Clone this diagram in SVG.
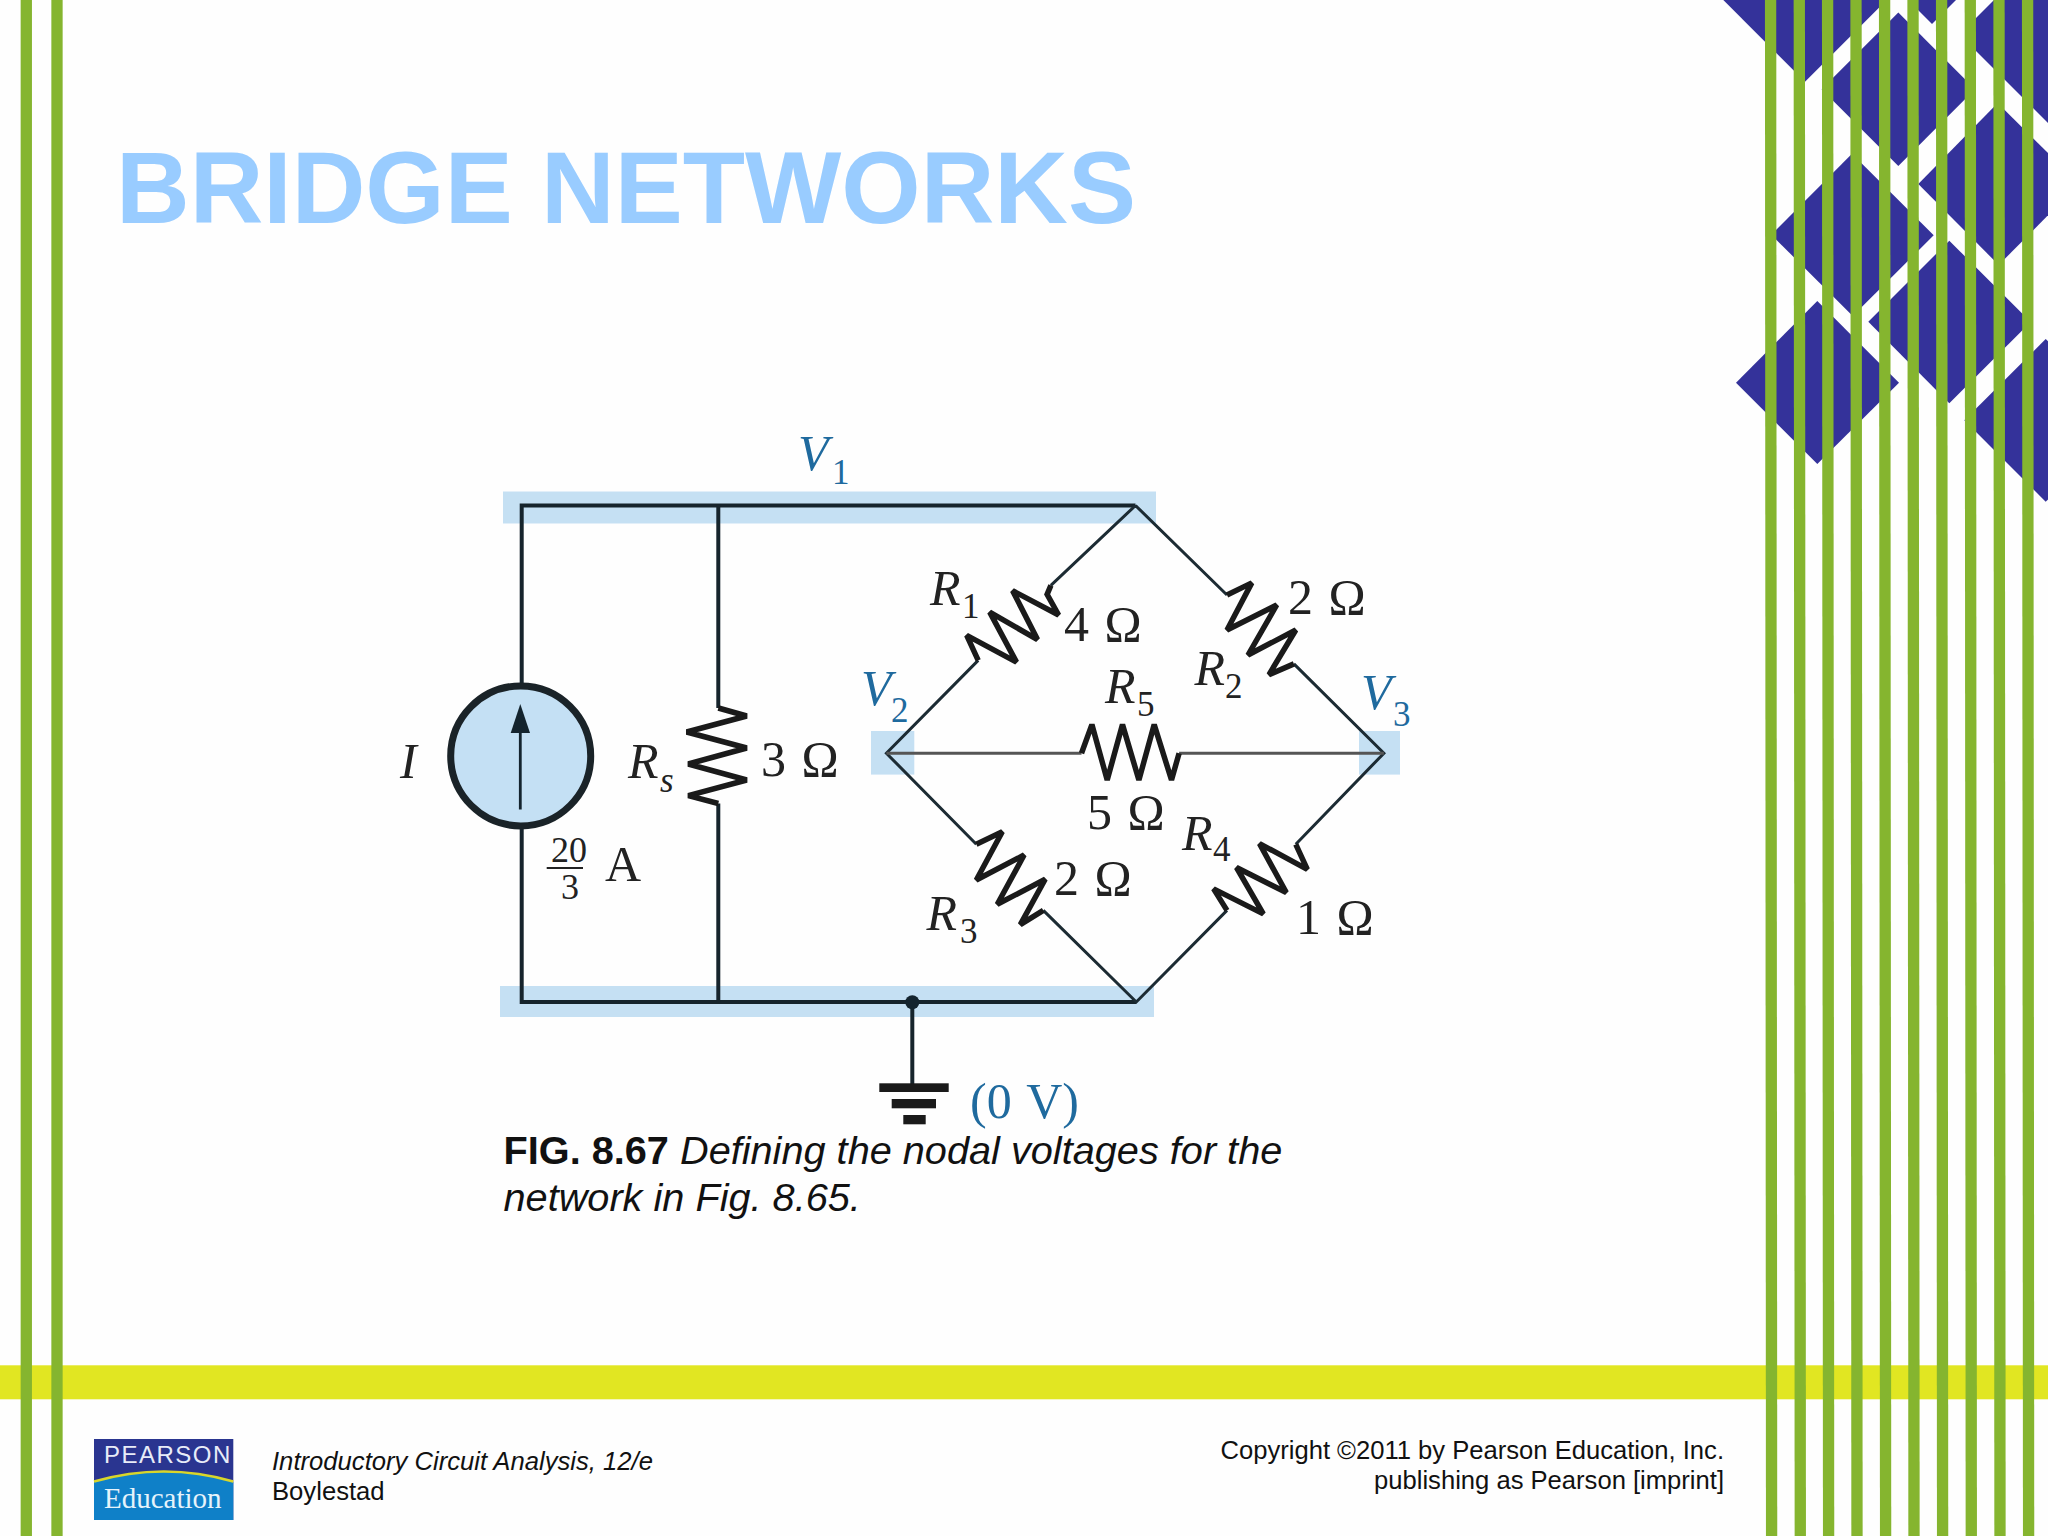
<svg xmlns="http://www.w3.org/2000/svg" width="2048" height="1536" viewBox="0 0 2048 1536">
<style>
.bar{stroke:#85b52f;stroke-width:11.3;fill:none}
.dia{fill:#34329a}
.band{fill:#c5e0f3}
.wire{stroke:#1c2b33;stroke-width:3;fill:none;stroke-linejoin:miter}
.thick{stroke:#16242c;stroke-width:4;fill:none}
.zig{stroke:#1a1a1a;stroke-width:5.5;fill:none;stroke-linejoin:miter;stroke-miterlimit:3}
text{font-family:"Liberation Serif","Times New Roman",serif;fill:#222}
.lab{font-size:50px;word-spacing:3px}
.it{font-size:50px;font-style:italic}
.sub{font-size:35px}
.blue{fill:#1f6a9e}
.sans{font-family:"Liberation Sans",Arial,sans-serif;fill:#111}
</style>
<rect width="2048" height="1536" fill="#fefefe"/>
<g id="decor-diamonds">
<polygon class="dia" points="1723.3,0 1886.7,0 1805,81.7"/>
<polygon class="dia" points="1898.3,12.6 1975,89.3 1898.3,166 1821.6,89.3"/>
<polygon class="dia" points="1908,0 1956,0 1932,24"/>
<polygon class="dia" points="1966,28 1994,0 2048,0 2048,123 1966,41"/>
<polygon class="dia" points="1997.7,103 2079,184 1998.7,265 1918.3,184"/>
<polygon class="dia" points="1852,153.7 1933.7,235.3 1852.7,316 1771.3,234.7"/>
<polygon class="dia" points="1949.3,240.7 2030.7,322 1949.3,403.3 1868.3,321.7"/>
<polygon class="dia" points="1817.3,301 1899,382.7 1817.3,464 1736,382.7"/>
<polygon class="dia" points="2045.7,339 2127,420.3 2045.7,501.7 1964.3,420.3"/>
</g>
<rect id="decor-band" x="0" y="1365.3" width="2048" height="34" fill="#e1e622"/>
<g id="decor-stripes">
<line class="bar" x1="26.3" y1="0" x2="26.3" y2="1536"/>
<line class="bar" x1="57" y1="0" x2="57" y2="1536"/>
<line class="bar" x1="1770.6" y1="0" x2="1771.6" y2="1536"/>
<line class="bar" x1="1799.3" y1="0" x2="1800.3" y2="1536"/>
<line class="bar" x1="1827.6" y1="0" x2="1828.6" y2="1536"/>
<line class="bar" x1="1856" y1="0" x2="1857" y2="1536"/>
<line class="bar" x1="1884.6" y1="0" x2="1885.6" y2="1536"/>
<line class="bar" x1="1913" y1="0" x2="1914" y2="1536"/>
<line class="bar" x1="1941.6" y1="0" x2="1942.6" y2="1536"/>
<line class="bar" x1="1970.3" y1="0" x2="1971.3" y2="1536"/>
<line class="bar" x1="1999" y1="0" x2="2000" y2="1536"/>
<line class="bar" x1="2027.6" y1="0" x2="2028.6" y2="1536"/>
</g>
<text id="title" x="116" y="223" font-size="102" font-weight="700" style="font-family:'Liberation Sans',Arial,sans-serif;fill:#99ccff">BRIDGE NETWORKS</text>
<g id="node-bands">
<rect class="band" x="503" y="491.5" width="653" height="32"/>
<rect class="band" x="500" y="986" width="654" height="31"/>
<rect class="band" x="871" y="731" width="43.3" height="43.6"/>
<rect class="band" x="1359" y="731" width="41" height="43.6"/>
</g>
<g id="connectors">
<path class="thick" d="M521.7 687V505.5H1135.5"/>
<path class="thick" d="M521.7 826V1002H1136"/>
<path class="thick" d="M718.3 505.5V708M718.3 803.5V1002"/>
<path class="wire" d="M1135.5 505.5L1050.9 585.4M978.2 660.4L886.4 753.2L976.3 844.3M1043.3 910.4L1136.3 1002L1227 910.4M1295.8 844.3L1383.9 753.2L1293.9 663.9M1227 595L1135.5 505.5"/>
<path d="M886.4 753.2H1081.5M1179.1 753.2H1383.9" stroke="#555" stroke-width="3" fill="none"/>
<line class="thick" x1="912.3" y1="1002" x2="912.3" y2="1085"/>
</g>
<g id="node-I">
<circle cx="520.7" cy="755.9" r="70" fill="#c4e0f4" stroke="#1a2328" stroke-width="7"/>
<line x1="520.3" y1="809.5" x2="520.3" y2="725" stroke="#14242e" stroke-width="2.8"/>
<polygon points="520.3,704 530,733 510.7,733" fill="#14242e"/>
<text class="it" x="400" y="777.7">I</text>
<text x="551" y="862" font-size="36">20</text>
<line x1="546.7" y1="868" x2="583" y2="868" stroke="#222" stroke-width="2"/>
<text x="561" y="899" font-size="36">3</text>
<text class="lab" x="605" y="881">A</text>
</g>
<g id="node-Rs">
<polyline class="zig" points="718.3,708 746.7,716 686.7,732 746.7,748 688.3,764 746.7,780 688.3,795.6 718.3,803.5"/>
<text class="it" x="628" y="777.7">R</text><text class="sub" font-style="italic" x="660" y="792">s</text>
<text class="lab" x="761" y="775.7">3 Ω</text>
</g>
<g id="node-R1">
<polyline class="zig" points="1050.9,585.4 1047.1,594.3 1058.6,615 1012.6,590.7 1037.5,639.6 989.7,612.1 1016.5,662.1 966.7,635.4 978.2,660.4"/>
<text class="it" x="930" y="605">R</text><text class="sub" x="962" y="617.5">1</text>
<text class="lab" x="1064" y="640.7">4 Ω</text>
</g>
<g id="node-R2">
<polyline class="zig" points="1227,595 1251.8,582.9 1227,630 1276.7,605 1248,655 1295.8,630 1269,674.6 1293.9,663.9"/>
<text class="it" x="1194.4" y="685.4">R</text><text class="sub" x="1225" y="697.9">2</text>
<text class="lab" x="1288" y="614">2 Ω</text>
</g>
<g id="node-R3">
<polyline class="zig" points="976.3,844.3 1002.3,831.8 976.3,880 1024.1,855 997.3,904.3 1045.2,879.3 1020.3,924.6 1043.3,910.4"/>
<text class="it" x="926.5" y="930">R</text><text class="sub" x="960" y="942.5">3</text>
<text class="lab" x="1054" y="895">2 Ω</text>
</g>
<g id="node-R4">
<polyline class="zig" points="1295.8,844.3 1307.3,869.3 1259.5,843.6 1286.3,892.5 1236.5,867.5 1263.3,913.9 1213.6,888.9 1227,910.4"/>
<text class="it" x="1182" y="849.6">R</text><text class="sub" x="1213" y="861.4">4</text>
<text class="lab" x="1296" y="933.6">1 Ω</text>
</g>
<g id="node-R5">
<polyline class="zig" points="1081.5,753.2 1091.9,724.6 1107.2,780 1122.5,724.6 1138.9,780 1154.2,724.6 1171.5,780 1179.1,753.2"/>
<text class="it" x="1105" y="703">R</text><text class="sub" x="1137" y="715.7">5</text>
<text class="lab" x="1087" y="829.3">5 Ω</text>
</g>
<g id="node-V1"><text class="it blue" x="798" y="469.7">V</text><text class="sub blue" x="832" y="483.6">1</text></g>
<g id="node-V2"><text class="it blue" x="861" y="705">V</text><text class="sub blue" x="891" y="722">2</text></g>
<g id="node-V3"><text class="it blue" x="1361" y="708.6">V</text><text class="sub blue" x="1393" y="725.7">3</text></g>
<g id="node-ground">
<circle cx="912.3" cy="1002.3" r="7" fill="#14242e"/>
<rect x="879.3" y="1083.3" width="69.4" height="8.7" fill="#1a1a1a"/>
<rect x="891.7" y="1099" width="44.3" height="9.3" fill="#1a1a1a"/>
<rect x="903.3" y="1115" width="22.4" height="9.3" fill="#1a1a1a"/>
<text class="lab blue" x="970" y="1118.3">(0 V)</text>
</g>
<g id="caption">
<text class="sans" x="503.5" y="1164" font-size="39.7"><tspan font-weight="700">FIG. 8.67</tspan><tspan font-style="italic"> Defining the nodal voltages for the</tspan></text>
<text class="sans" x="503.5" y="1211" font-size="39.7" font-style="italic">network in Fig. 8.65.</text>
</g>
<g id="logo">
<rect x="94" y="1439" width="139.3" height="81" fill="#2a3590"/>
<path d="M94 1482Q164 1462 233.3 1482V1520H94Z" fill="#0f80c8"/>
<path d="M94 1481.5Q164 1461.5 233.3 1481.5" fill="none" stroke="#d9d62a" stroke-width="2.5"/>
<text x="104" y="1463.3" font-size="24" letter-spacing="1.5" style="font-family:'Liberation Sans',Arial,sans-serif;fill:#e8ecf8">PEARSON</text>
<text x="104" y="1508.3" font-size="29" style="fill:#e6f3fb">Education</text>
</g>
<g id="footer-left">
<text class="sans" x="272" y="1470" font-size="25.65" font-style="italic">Introductory Circuit Analysis, 12/e</text>
<text class="sans" x="272" y="1500" font-size="25.65">Boylestad</text>
</g>
<g id="footer-right">
<text class="sans" x="1724" y="1459" font-size="25.6" text-anchor="end">Copyright ©2011 by Pearson Education, Inc.</text>
<text class="sans" x="1724" y="1489" font-size="25.6" text-anchor="end">publishing as Pearson [imprint]</text>
</g>
</svg>
